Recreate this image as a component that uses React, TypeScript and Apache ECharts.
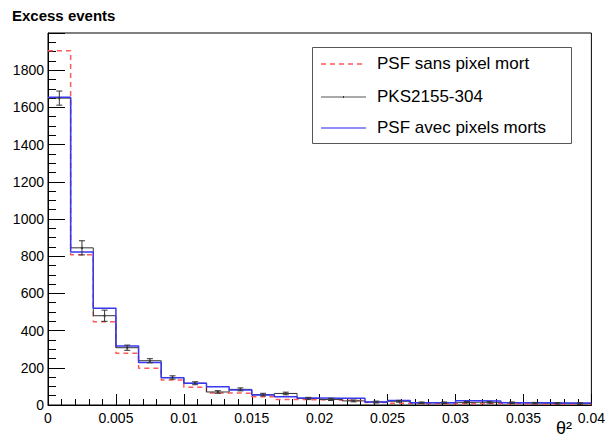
import React, { useEffect, useRef } from "react";
import * as echarts from "echarts";

const X_MIN = 0;
const X_MAX = 0.04;
const N_BINS = 24;
const binWidth = (X_MAX - X_MIN) / N_BINS;
const binLow: number[] = Array.from({ length: N_BINS }, (_, i) => X_MIN + i * binWidth);

const psfSans: number[] = [1905, 808, 448, 278, 197, 134, 95, 65, 63, 45, 30, 28, 26, 24, 14, 10, 7, 7, 8, 8, 6, 6, 5, 5];
const pks: number[] = [1650, 845, 480, 308, 238, 148, 117, 70, 84, 56, 62, 35, 30, 22, 16, 20, 12, 12, 15, 14, 12, 10, 9, 8];
const pksErr: number[] = [38, 38, 30, 14, 11, 9, 8, 7, 8, 7, 7, 6, 6, 5, 5, 5, 4, 4, 4, 4, 4, 4, 4, 4];
const psfAvec: number[] = [1655, 822, 520, 317, 229, 147, 117, 98, 81, 54, 45, 38, 36, 36, 16, 24, 12, 12, 23, 22, 12, 12, 11, 11];

const legendNames = ["PSF sans pixel mort", "PKS2155-304", "PSF avec pixels morts"];
const RED = "#ff5a5a";
const BLACK = "#333333";
const BLUE = "#3838f0";

function stepData(vals: number[]) {
  const d: number[][] = binLow.map((x, i) => [x, vals[i]]);
  d.push([X_MAX, vals[vals.length - 1]]);
  return d;
}

export default function App() {
  const ref = useRef<HTMLDivElement>(null);
  useEffect(() => {
    if (!ref.current) return;
    const chart = echarts.init(ref.current, undefined, { renderer: "svg" });
    const font = "Liberation Sans, Arial, Helvetica, sans-serif";
    const errData = binLow.map((x, i) => [x + binWidth / 2, pks[i], pksErr[i]]);
    chart.setOption({
      animation: false,
      backgroundColor: "#ffffff",
      textStyle: { fontFamily: font },
      grid: {
        left: 48,
        right: 13,
        top: 33,
        bottom: 34,
        show: true,
        borderColor: "#000",
        borderWidth: 1,
        backgroundColor: "transparent",
      },
      xAxis: {
        type: "value",
        min: X_MIN,
        max: X_MAX,
        interval: 0.005,
        axisLine: { show: true, lineStyle: { color: "#000", width: 1 } },
        axisTick: { show: true, inside: true, length: 11, lineStyle: { color: "#000" } },
        minorTick: { show: true, splitNumber: 5, length: 6, lineStyle: { color: "#000" } },
        splitLine: { show: false },
        axisLabel: {
          color: "#000",
          fontSize: 14,
          fontFamily: font,
          margin: 6,
          formatter: (v: number) => String(parseFloat(v.toFixed(4))),
        },
      },
      yAxis: {
        type: "value",
        min: 0,
        max: 2000,
        interval: 200,
        axisLine: { show: true, lineStyle: { color: "#000", width: 1 } },
        axisTick: { show: true, inside: true, length: 17, lineStyle: { color: "#000" } },
        minorTick: { show: true, splitNumber: 4, length: 8, lineStyle: { color: "#000" } },
        splitLine: { show: false },
        axisLabel: {
          color: "#000",
          fontSize: 14,
          fontFamily: font,
          margin: 4,
          showMaxLabel: false,
          formatter: (v: number) => String(v),
        },
      },
      series: [
        {
          name: legendNames[0],
          type: "line",
          step: "end",
          data: stepData(psfSans),
          symbol: "none",
          lineStyle: { color: RED, width: 1.5, type: [5, 4] },
          z: 3,
        },
        {
          name: legendNames[1],
          type: "line",
          step: "end",
          data: stepData(pks),
          symbol: "none",
          lineStyle: { color: BLACK, width: 1 },
          z: 4,
        },
        {
          name: legendNames[2],
          type: "line",
          step: "end",
          data: stepData(psfAvec),
          symbol: "none",
          lineStyle: { color: BLUE, width: 1.5 },
          z: 5,
        },
        {
          type: "custom",
          data: errData,
          z: 6,
          renderItem: (params: any, api: any) => {
            const x = api.value(0);
            const v = api.value(1);
            const e = api.value(2);
            const top = api.coord([x, v + e]);
            const bot = api.coord([x, v - e]);
            const mid = api.coord([x, v]);
            const style = { stroke: BLACK, lineWidth: 1, fill: "none" };
            const children: any[] = [
              { type: "line", shape: { x1: top[0], y1: top[1], x2: bot[0], y2: bot[1] }, style },
              { type: "line", shape: { x1: top[0] - 3, y1: top[1], x2: top[0] + 3, y2: top[1] }, style },
              { type: "line", shape: { x1: bot[0] - 3, y1: bot[1], x2: bot[0] + 3, y2: bot[1] }, style },
              { type: "rect", shape: { x: mid[0] - 1, y: mid[1] - 1, width: 2, height: 2 }, style: { fill: BLACK } },
            ];
            return { type: "group", children };
          },
        },
      ],
      graphic: [
        {
          type: "text",
          left: 12,
          top: 8,
          style: { text: "Excess events", font: `bold 15px ${font}`, fill: "#000" },
        },
        {
          type: "text",
          left: 556,
          top: 419,
          style: { text: "θ²", font: `18px ${font}`, fill: "#000" },
        },
        {
          type: "rect",
          shape: { x: 312.5, y: 47.5, width: 259, height: 96 },
          style: { fill: "#fff", stroke: "#555", lineWidth: 1 },
          z: 10,
        },
        {
          type: "line",
          shape: { x1: 321, y1: 64, x2: 366, y2: 64 },
          style: { stroke: RED, lineWidth: 1.5, lineDash: [5, 4] },
          z: 11,
        },
        {
          type: "line",
          shape: { x1: 321, y1: 97, x2: 366, y2: 97 },
          style: { stroke: "#555", lineWidth: 1 },
          z: 11,
        },
        {
          type: "rect",
          shape: { x: 343, y: 96, width: 1, height: 2 },
          style: { fill: BLACK },
          z: 11,
        },
        {
          type: "line",
          shape: { x1: 321, y1: 128, x2: 366, y2: 128 },
          style: { stroke: "#6a6af5", lineWidth: 1.5 },
          z: 11,
        },
        {
          type: "text",
          left: 377,
          top: 55,
          style: { text: legendNames[0], font: `17px ${font}`, fill: "#000" },
          z: 11,
        },
        {
          type: "text",
          left: 377,
          top: 88,
          style: { text: legendNames[1], font: `17px ${font}`, fill: "#000" },
          z: 11,
        },
        {
          type: "text",
          left: 377,
          top: 119,
          style: { text: legendNames[2], font: `17px ${font}`, fill: "#000" },
          z: 11,
        },
      ],
    });
    return () => chart.dispose();
  }, []);
  return <div ref={ref} style={{ width: 608, height: 439, position: "absolute", left: 0, top: 0 }} />;
}
